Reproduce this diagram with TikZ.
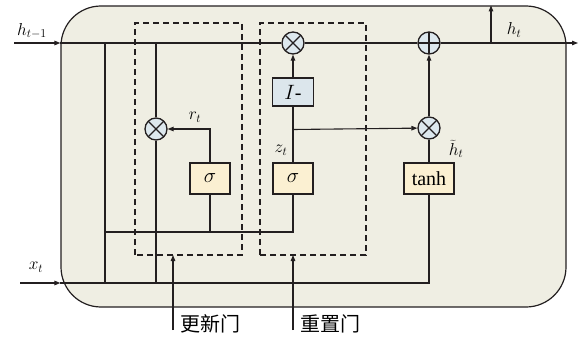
\documentclass[tikz,border=0pt]{standalone}
\usepackage{fontspec}
\setmainfont{Liberation Serif}
\newfontfamily\cjk{Noto Sans CJK SC}
\usepackage{tikz}
\usetikzlibrary{arrows.meta,positioning,calc}
\definecolor{ink}{HTML}{231F20}
\definecolor{cellbg}{HTML}{EFEEE3}
\definecolor{opbg}{HTML}{DDE8EE}
\definecolor{actbg}{HTML}{FBF0D2}
\definecolor{invbg}{HTML}{DCE6EC}
\tikzset{
  >={Triangle[length=6pt,width=4.5pt]},
  wire/.style={draw=ink,line width=1.1pt},
  arr/.style={wire,->},
  cellbox/.style={draw=ink,line width=1.2pt,fill=cellbg,rounded corners=40pt,inner sep=0pt},
  gatebox/.style={draw=ink,line width=1.1pt,dash pattern=on 6pt off 4pt},
  mul/.style={circle,draw=ink,line width=1.3pt,fill=opbg,minimum size=22pt,inner sep=0pt,
    path picture={\draw[ink,line width=1.1pt] (path picture bounding box.north west)--(path picture bounding box.south east)
      (path picture bounding box.north east)--(path picture bounding box.south west);}},
  add/.style={mul,path picture={\draw[ink,line width=1.1pt] (path picture bounding box.north)--(path picture bounding box.south)
      (path picture bounding box.west)--(path picture bounding box.east);}},
  act/.style={draw=ink,line width=1.1pt,fill=actbg,minimum height=31pt,minimum width=40pt,inner sep=1pt},
  inv/.style={act,fill=invbg,minimum height=28pt,minimum width=41pt},
  lab/.style={inner sep=1pt,font=\fontsize{17.28}{20}\selectfont},
}

\begin{document}
\begin{tikzpicture}[x=1pt,y=1pt,every node/.style={font=\fontsize{20}{22}\selectfont}]
\useasboundingbox (0,0) rectangle (581,338);
% cell and gates
\node[cellbox,minimum width=505pt,minimum height=301pt] (cell) at (313.5,181.5) {};
\draw[gatebox] (135,83) rectangle (242,315);
\draw[gatebox] (260,83) rectangle (366,315);
% operators
\node[mul] (mr) at (156,209) {};
\node[mul] (mz) at (293,295) {};
\node[add] (pl) at (429,295) {};
\node[mul] (mh) at (429,210) {};
\node[act] (sr) at (210,159.5) {$\sigma$};
\node[act] (sz) at (293,159.5) {$\sigma$};
\node[inv] (im) at (293,246) {$I$-};
\node[act,minimum width=50pt] (th) at (429,159.5) {tanh};
\coordinate (hin) at (14,295);
\coordinate (hout) at (578,295);
\coordinate (xin) at (20,55);
\coordinate (hup) at (491,295);
\coordinate (gu) at (173,8);
\coordinate (gr) at (293,8);
% hidden state
\draw[arr] (hin) -- (hin -| cell.west);
\draw[wire] (hin -| cell.west) -- (mz) (mz) -- (pl);
\draw[arr] (pl) -- (hout);
\draw[arr] (hup) -- (hup |- cell.north);
% input
\draw[arr] (xin) -- (xin -| cell.west);
\draw[wire] (xin -| cell.west) -| (th);
\draw[wire] (105,295) -- (105,55);
\draw[wire] (mr |- hin) -- (mr) -- (mr |- xin);
\draw[wire] (105,106) -| (sz);
\draw[wire] (sr) -- (sr |- 0,106);
% gate outputs
\draw[arr] (sr) |- (mr);
\draw[wire] (sz) -- (im);
\draw[arr] (im) -- (mz);
\draw[arr] (sz |- 0,208.5) -- (mh);
\draw[wire] (th) -- (mh);
\draw[arr] (mh) -- (pl);
\draw[arr] (gu) -- (gu |- 0,83);
\draw[arr] (gr) -- (gr |- 0,83);
% labels
\node[lab] (lh0) at (32,307) {$h_{t-1}$};
\node[lab] (lx) at (36,71) {$x_t$};
\node[lab] (lh) at (514,308) {$h_t$};
\node[lab] (lr) at (195,221) {$r_t$};
\node[lab] (lz) at (281,188) {$z_t$};
\node[lab,inner sep=0pt] (lht) at (456,189) {$\widetilde{h}_t$};
\node[lab,font=\fontsize{20}{22}\selectfont,anchor=west] (lu) at (179,14) {\cjk 更新门};
\node[lab,font=\fontsize{20}{22}\selectfont,anchor=west] (lrs) at (299,14) {\cjk 重置门};
\end{tikzpicture}
\end{document}
